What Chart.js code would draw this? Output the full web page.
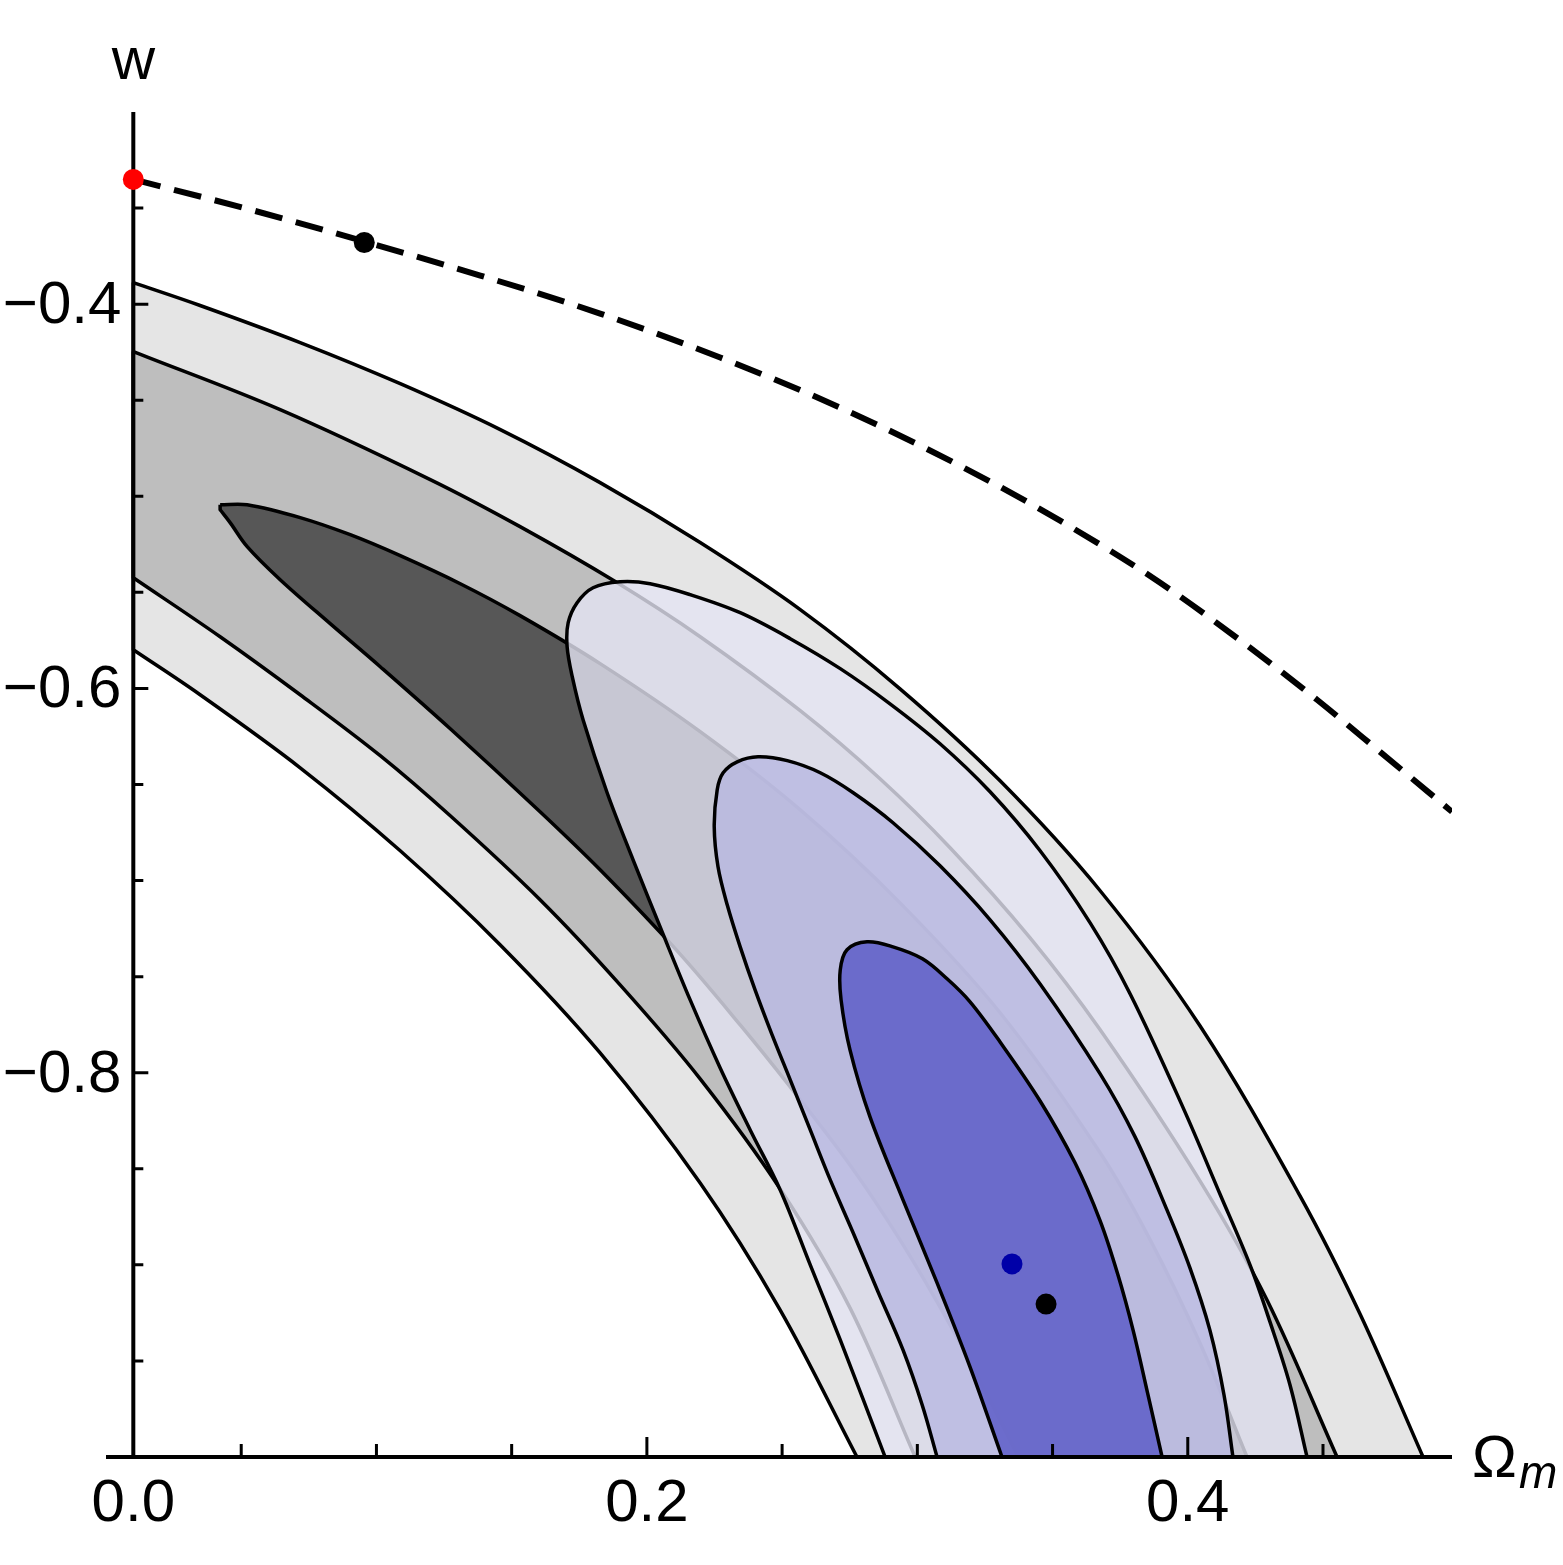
<!DOCTYPE html>
<html>
<head>
<meta charset="utf-8">
<script src="https://cdn.jsdelivr.net/npm/chart.js@4.4.1/dist/chart.umd.min.js"></script>
<style>
  html, body { margin: 0; padding: 0; background: #fff; overflow: hidden; }
</style>
</head>
<body>
<canvas id="chart" width="1563" height="1565"></canvas>
<script>
// Axis ranges and ticks
const xMin = 0, xMax = 0.4977, yMin = -1, yMax = -0.3;
const yAxisAt = 0.0101;
const xTickValues = [0.05, 0.1, 0.15, 0.2, 0.25, 0.3, 0.35, 0.4, 0.45];
const xLabelValues = [0.0101, 0.2, 0.4];
const xLabelTexts = ['0.0', '0.2', '0.4'];
const yTickValues = [-0.95, -0.9, -0.85, -0.8, -0.75, -0.7, -0.65, -0.6, -0.55, -0.5, -0.45, -0.4, -0.35];
const yLabelValues = [-0.8, -0.6, -0.4];
const yLabelTexts = ['\u22120.8', '\u22120.6', '\u22120.4'];

// Grey contours [Omega_m, w]
const greyOuterUpper = [[0.0101,-0.3888],[0.0348,-0.4007],[0.0718,-0.4200],[0.1088,-0.4414],[0.1458,-0.4653],[0.1827,-0.4929],[0.2197,-0.5241],[0.2567,-0.5590],[0.2936,-0.6002],[0.3306,-0.6481],[0.3676,-0.7053],[0.4045,-0.7756],[0.4415,-0.8641],[0.4637,-0.9256],[0.4870,-1.0]];
const greyOuterLower = [[0.0101,-0.5799],[0.0348,-0.6033],[0.0718,-0.6413],[0.1088,-0.6845],[0.1458,-0.7335],[0.1827,-0.7897],[0.2197,-0.8574],[0.2493,-0.9235],[0.2777,-1.0]];
const greyMidUpper = [[0.0101,-0.4247],[0.0644,-0.4549],[0.1199,-0.4913],[0.1531,-0.5158],[0.1883,-0.5444],[0.2197,-0.5731],[0.2567,-0.6116],[0.2862,-0.6470],[0.3121,-0.6829],[0.3417,-0.7298],[0.3676,-0.7777],[0.4045,-0.8563],[0.4293,-0.9183],[0.4552,-1.0]];
const greyMidLower = [[0.0101,-0.5424],[0.0422,-0.5731],[0.0718,-0.6033],[0.1014,-0.6350],[0.1273,-0.6663],[0.1605,-0.7100],[0.1901,-0.7543],[0.2197,-0.8032],[0.2493,-0.8605],[0.2751,-0.9224],[0.2992,-1.0]];
const greyInnerUpper = [[0.0422,-0.5044],[0.0522,-0.5044],[0.0718,-0.5111],[0.0903,-0.5200],[0.1088,-0.5309],[0.1310,-0.5455],[0.1531,-0.5621],[0.1827,-0.5871],[0.2197,-0.6225],[0.2567,-0.6632],[0.2936,-0.7116],[0.3306,-0.7688],[0.3676,-0.8417],[0.3861,-0.8870],[0.4045,-0.9407],[0.4219,-1.0]];
const greyInnerLower = [[0.0422,-0.5070],[0.0459,-0.5137],[0.0522,-0.5262],[0.0644,-0.5434],[0.0829,-0.5663],[0.1014,-0.5887],[0.1273,-0.6210],[0.1605,-0.6642],[0.1827,-0.6944],[0.2112,-0.7366],[0.2345,-0.7751],[0.2530,-0.8074],[0.2751,-0.8480],[0.2936,-0.8870],[0.3121,-0.9313],[0.3306,-0.9808],[0.3373,-1.0]];

// Blue contours (closed, cut by the bottom axis)
const blueOuter = [[0.2881,-1.0],[0.2715,-0.9391],[0.2604,-0.9000],[0.2493,-0.8610],[0.2382,-0.8298],[0.2271,-0.7975],[0.2160,-0.7621],[0.2049,-0.7241],[0.1949,-0.6892],[0.1853,-0.6543],[0.1764,-0.6163],[0.1724,-0.5939],[0.1705,-0.5783],[0.1709,-0.5658],[0.1742,-0.5554],[0.1801,-0.5476],[0.1901,-0.5445],[0.2012,-0.5455],[0.2160,-0.5512],[0.2345,-0.5606],[0.2530,-0.5741],[0.2715,-0.5897],[0.2899,-0.6080],[0.3084,-0.6288],[0.3269,-0.6538],[0.3454,-0.6845],[0.3639,-0.7220],[0.3787,-0.7590],[0.3983,-0.8183],[0.4119,-0.8631],[0.4230,-0.9000],[0.4304,-0.9297],[0.4378,-0.9625],[0.4441,-1.0]];
const blueMid = [[0.3073,-1.0],[0.3018,-0.9729],[0.2947,-0.9443],[0.2855,-0.9141],[0.2763,-0.8834],[0.2678,-0.8558],[0.2604,-0.8298],[0.2530,-0.8037],[0.2463,-0.7803],[0.2400,-0.7569],[0.2345,-0.7345],[0.2297,-0.7126],[0.2263,-0.6928],[0.2249,-0.6720],[0.2260,-0.6527],[0.2282,-0.6439],[0.2334,-0.6382],[0.2411,-0.6356],[0.2519,-0.6376],[0.2641,-0.6439],[0.2763,-0.6543],[0.2910,-0.6699],[0.3084,-0.6923],[0.3269,-0.7204],[0.3454,-0.7538],[0.3676,-0.8006],[0.3805,-0.8334],[0.3923,-0.8714],[0.4008,-0.9016],[0.4082,-0.9341],[0.4134,-0.9677],[0.4167,-1.0]];
const blueInner = [[0.3313,-1.0],[0.3195,-0.9532],[0.3073,-0.9094],[0.2947,-0.8662],[0.2825,-0.8230],[0.2751,-0.7881],[0.2718,-0.7621],[0.2715,-0.7465],[0.2740,-0.7360],[0.2814,-0.7319],[0.2910,-0.7345],[0.3019,-0.7407],[0.3110,-0.7511],[0.3195,-0.7631],[0.3306,-0.7840],[0.3454,-0.8147],[0.3583,-0.8469],[0.3676,-0.8771],[0.3742,-0.9053],[0.3798,-0.9341],[0.3853,-0.9677],[0.3905,-1.0]];

// Dashed curve and markers
const dashedCurve = [[0.0101,-0.3351],[0.0533,-0.3508],[0.0955,-0.3674],[0.1384,-0.3851],[0.1827,-0.4049],[0.2271,-0.4278],[0.2715,-0.4539],[0.3158,-0.4841],[0.3528,-0.5127],[0.3898,-0.5450],[0.4230,-0.5788],[0.4478,-0.6059],[0.4711,-0.6330],[0.4977,-0.6642]];
const redPoint = [0.0101, -0.3351];
const curvePoint = [0.0955, -0.3679];
const bluePoint = [0.3350, -0.8995];
const blackPoint = [0.3476, -0.9204];

const toXY = (pts) => pts.map(([x, y]) => ({ x, y }));
const last = (a) => a[a.length - 1];

// corners are doubled so the spline stays straight into them
const band = (upper, lower) => {
  const lo = lower.slice().reverse();
  return toXY([upper[0], ...upper, last(upper), lo[0], ...lo, last(lo), upper[0]]);
};
const loop = (pts) => toXY([pts[0], ...pts, last(pts), pts[0]]);

function region(label, data, color, order) {
  return {
    label, data, order,
    fill: 'shape',
    backgroundColor: color,
    borderColor: '#000',
    borderWidth: 3.5,
    pointRadius: 0,
    tension: 0.35
  };
}

function marker(label, pt, color) {
  return {
    label, data: toXY([pt]), order: 1,
    showLine: false,
    pointRadius: 10.5,
    pointBackgroundColor: color,
    pointBorderWidth: 0
  };
}

const axesPlugin = {
  id: 'axes',
  afterDatasetDraw(chart, args) {
    if (chart.data.datasets[args.index].label !== 'blue inner') return;
    const { ctx } = chart;
    const xs = chart.scales.x, ys = chart.scales.y;
    const ax = xs.getPixelForValue(yAxisAt);
    const ay = ys.getPixelForValue(yMin);
    ctx.save();
    ctx.strokeStyle = '#000';
    ctx.lineWidth = 4;
    ctx.beginPath();
    ctx.moveTo(xs.getPixelForValue(xMin), ay);
    ctx.lineTo(xs.right, ay);
    ctx.moveTo(ax, ay);
    ctx.lineTo(ax, ys.top);
    ctx.stroke();

    ctx.lineWidth = 3;
    ctx.beginPath();
    xTickValues.forEach((v) => {
      const px = xs.getPixelForValue(v);
      const len = xLabelValues.includes(v) ? 20 : 13;
      ctx.moveTo(px, ay);
      ctx.lineTo(px, ay - len);
    });
    yTickValues.forEach((v) => {
      const py = ys.getPixelForValue(v);
      const len = yLabelValues.includes(v) ? 15 : 10;
      ctx.moveTo(ax, py);
      ctx.lineTo(ax + len, py);
    });
    ctx.stroke();
    ctx.restore();
  },
  afterDraw(chart) {
    const { ctx } = chart;
    const xs = chart.scales.x, ys = chart.scales.y;
    const ax = xs.getPixelForValue(yAxisAt);
    const ay = ys.getPixelForValue(yMin);
    ctx.save();
    ctx.fillStyle = '#000';
    ctx.font = '60px "Liberation Sans", Arial, sans-serif';
    ctx.textBaseline = 'alphabetic';

    ctx.textAlign = 'center';
    xLabelValues.forEach((v, i) => ctx.fillText(xLabelTexts[i], xs.getPixelForValue(v), ay + 64));

    ctx.textAlign = 'right';
    yLabelValues.forEach((v, i) => ctx.fillText(yLabelTexts[i], ax - 12, ys.getPixelForValue(v) + 19));

    // axis titles
    ctx.textAlign = 'center';
    ctx.fillText('w', ax, ys.top - 33);
    ctx.textAlign = 'left';
    ctx.fillText('\u03A9', xs.right + 20, ay + 20);
    ctx.font = 'italic 46px "Liberation Sans", Arial, sans-serif';
    ctx.fillText('m', xs.right + 67, ay + 31);
    ctx.restore();
  }
};

new Chart(document.getElementById('chart'), {
  type: 'line',
  data: {
    datasets: [
      region('grey outer', band(greyOuterUpper, greyOuterLower), '#e5e5e5', 9),
      region('grey mid', band(greyMidUpper, greyMidLower), '#bebebe', 8),
      region('grey inner', band(greyInnerUpper, greyInnerLower), '#575757', 7),
      region('blue outer', loop(blueOuter), 'rgba(228, 228, 243, 0.8)', 6),
      region('blue mid', loop(blueMid), 'rgba(184, 184, 225, 0.8)', 5),
      region('blue inner', loop(blueInner), 'rgba(87, 87, 198, 0.8)', 4),
      {
        label: 'dashed', data: toXY(dashedCurve), order: 3,
        fill: false,
        borderColor: '#000',
        borderWidth: 6,
        borderDash: [28, 14],
        pointRadius: 0,
        cubicInterpolationMode: 'monotone'
      },
      marker('red', redPoint, '#ff0000'),
      marker('curve point', curvePoint, '#000'),
      marker('blue', bluePoint, '#0000a8'),
      marker('black', blackPoint, '#000')
    ]
  },
  options: {
    responsive: false,
    devicePixelRatio: 1,
    animation: false,
    events: [],
    layout: { padding: { left: 106, right: 111, top: 112, bottom: 108 } },
    elements: { line: { borderJoinStyle: 'round' } },
    scales: {
      x: { type: 'linear', min: xMin, max: xMax, display: false },
      y: { type: 'linear', min: yMin, max: yMax, display: false }
    },
    plugins: {
      legend: { display: false },
      tooltip: { enabled: false }
    }
  },
  plugins: [axesPlugin]
});
</script>
</body>
</html>
